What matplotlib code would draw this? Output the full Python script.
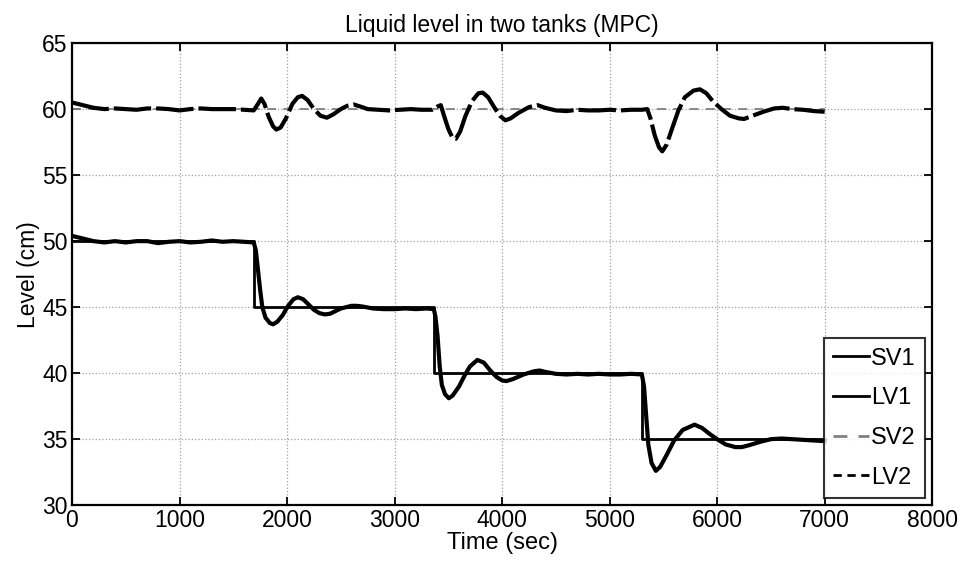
import numpy as np
import matplotlib.pyplot as plt

plt.rcParams['font.family'] = ['Liberation Sans', 'DejaVu Sans']

# set points (step changes in tank 1, tank 2 held constant)
sv1_t = [0, 1690, 3365, 5300, 7000]
sv1_v = [50, 45, 40, 35, 35]
sv2_t = [0, 7000]
sv2_v = [60, 60]

# measured level, tank 1
lv1_t = [0, 50, 100, 200, 300, 400, 500, 600, 700, 800, 900, 1000, 1100, 1200,
         1300, 1400, 1500, 1600, 1690, 1710, 1730, 1750, 1770, 1800, 1840, 1870,
         1910, 1960, 2010, 2060, 2100, 2150, 2200, 2250, 2300, 2350, 2400, 2450,
         2500, 2550, 2600, 2650, 2700, 2800, 2900, 3000, 3100, 3200, 3300, 3365,
         3380, 3400, 3420, 3440, 3470, 3505, 3540, 3600, 3650, 3700, 3770, 3830,
         3890, 3950, 4000, 4040, 4100, 4200, 4300, 4350, 4400, 4500, 4600, 4700,
         4800, 4900, 5000, 5100, 5200, 5300, 5320, 5340, 5360, 5390, 5430, 5470,
         5530, 5600, 5680, 5790, 5860, 5930, 6000, 6080, 6170, 6230, 6300, 6400,
         6500, 6600, 6700, 6800, 6900, 7000]
lv1_v = [50.4, 50.3, 50.2, 50.0, 49.9, 50.0, 49.9, 50.0, 50.0, 49.85, 49.95, 50.0,
         49.9, 49.95, 50.05, 49.95, 50.0, 49.95, 49.9, 49.3, 47.8, 46.3, 45.0, 44.2,
         43.8, 43.7, 43.9, 44.4, 45.1, 45.6, 45.75, 45.6, 45.2, 44.8, 44.55, 44.45,
         44.5, 44.7, 44.9, 45.0, 45.1, 45.1, 45.05, 44.9, 44.85, 44.85, 44.9, 44.85,
         44.9, 44.85, 44.3, 42.8, 40.5, 39.1, 38.4, 38.1, 38.3, 39.0, 39.8, 40.5,
         41.0, 40.8, 40.2, 39.7, 39.45, 39.4, 39.55, 39.9, 40.15, 40.2, 40.1, 39.95,
         39.9, 39.95, 39.9, 39.95, 39.9, 39.9, 39.95, 39.9, 39.0, 36.8, 34.6, 33.2,
         32.6, 32.9, 33.8, 34.9, 35.7, 36.1, 35.85, 35.4, 35.0, 34.6, 34.4, 34.4,
         34.55, 34.8, 35.0, 35.05, 35.0, 34.95, 34.9, 34.85]

# measured level, tank 2
lv2_t = [0, 50, 100, 200, 300, 400, 500, 600, 700, 800, 900, 1000, 1100, 1200,
         1300, 1400, 1500, 1600, 1690, 1730, 1760, 1790, 1830, 1870, 1900, 1940,
         1990, 2050, 2100, 2140, 2190, 2250, 2310, 2370, 2430, 2500, 2560, 2620,
         2680, 2750, 2850, 2950, 3050, 3150, 3250, 3350, 3400, 3430, 3460, 3500,
         3540, 3570, 3610, 3660, 3720, 3780, 3820, 3870, 3930, 3980, 4030, 4080,
         4150, 4250, 4330, 4400, 4500, 4600, 4700, 4800, 4900, 5000, 5100, 5200,
         5300, 5350, 5380, 5420, 5460, 5490, 5530, 5580, 5640, 5700, 5780, 5840,
         5900, 5960, 6040, 6120, 6200, 6250, 6330, 6430, 6530, 6610, 6700, 6800,
         6900, 7000]
lv2_v = [60.5, 60.4, 60.3, 60.1, 60.0, 60.05, 60.0, 59.95, 60.05, 60.05, 60.0,
         59.9, 60.0, 60.05, 60.0, 60.0, 60.0, 59.95, 59.9, 60.4, 60.8, 60.4, 59.4,
         58.7, 58.45, 58.6, 59.3, 60.4, 60.9, 61.0, 60.7, 60.0, 59.5, 59.35, 59.6,
         60.0, 60.25, 60.35, 60.2, 60.0, 59.95, 59.9, 59.95, 60.0, 59.95, 59.95,
         60.2, 60.3, 59.5, 58.5, 57.8, 57.75, 58.3, 59.5, 60.6, 61.2, 61.25, 60.9,
         60.1, 59.5, 59.15, 59.3, 59.7, 60.15, 60.3, 60.1, 59.9, 59.85, 59.95, 59.9,
         59.9, 59.95, 59.9, 59.95, 59.95, 60.0, 59.3, 58.0, 57.1, 56.8, 57.3, 58.5,
         59.9, 60.9, 61.4, 61.5, 61.2, 60.6, 60.0, 59.5, 59.3, 59.25, 59.5, 59.8,
         60.05, 60.1, 60.0, 59.95, 59.85, 59.8]

fig = plt.figure(figsize=(9.6, 5.67), dpi=100)
ax = fig.add_axes([0.075, 0.109, 0.896, 0.815])

ax.plot(sv1_t, sv1_v, color='black', lw=2.0, drawstyle='steps-post', label='SV1')
ax.plot(lv1_t, lv1_v, color='black', lw=3.0, label='LV1')
ax.plot(sv2_t, sv2_v, color='#808080', lw=1.3, ls=(0, (5, 4)), label='SV2')
ax.plot(lv2_t, lv2_v, color='black', lw=3.0, ls=(0, (9, 1.2)), label='LV2')

ax.set_xlim(0, 8000)
ax.set_ylim(30, 65)
ax.set_xticks(np.arange(0, 8001, 1000))
ax.set_yticks(np.arange(30, 66, 5))
ax.tick_params(direction='in', top=True, right=True, labelsize=16.5, length=6,
               width=1.3, pad=3)
ax.grid(True, ls=':', color='#a0a0a0', lw=0.9)
for s in ax.spines.values():
    s.set_linewidth(1.6)

ax.set_title('Liquid level in two tanks (MPC)', fontsize=16.5, pad=8)
ax.set_xlabel('Time (sec)', fontsize=17, labelpad=0)
ax.set_ylabel('Level (cm)', fontsize=16.5, labelpad=2)

leg = ax.legend(loc='lower right', fontsize=17, frameon=True, fancybox=False,
                edgecolor='black', handlelength=1.5, handletextpad=0.1,
                labelspacing=0.75, borderaxespad=0.3, borderpad=0.4)
leg.get_frame().set_linewidth(1.5)
for h in leg.get_lines():
    h.set_linewidth(2.0)
leg.get_lines()[3].set_linestyle((0, (3, 2)))

fig.savefig('out.png', dpi=100)
